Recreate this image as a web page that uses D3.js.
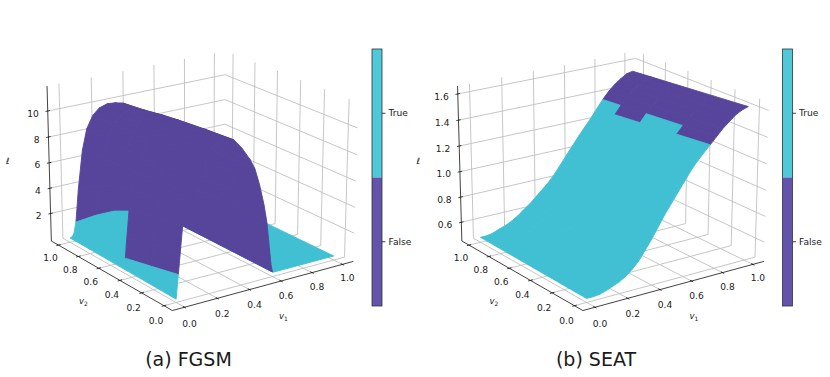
<!DOCTYPE html>
<html>
<head>
<meta charset="utf-8">
<script src="https://cdnjs.cloudflare.com/ajax/libs/d3/7.8.5/d3.min.js"></script>
<style>
html,body{margin:0;padding:0;background:#fff}
text{font-family:"DejaVu Sans",sans-serif;fill:#1a1a1a}
</style>
</head>
<body>
<svg id="c" width="830" height="377"></svg>
<script>
// ---------- data ----------
const axisTicks = [0, 0.2, 0.4, 0.6, 0.8, 1.0];
const panelTitles = ["(a) FGSM", "(b) SEAT"];
const colorLabels = ["True", "False"];

const fgsmZTicks = [2, 4, 6, 8, 10];
const fgsmV1 = [0,.014,.025,.04,.06,.09,.12,.16,.2,.25,.3,.35,.4,.45,.48,.51,.54,.56,.58,.59,.6,.61,.7,.85,1];
const fgsmV2 = [0,.24,.48,.62,.8,1];
const fgsmLoss = [
 [.05,1.85,3.3,5.3,6.1,7.15,8.2,9.5,10.55,10.95,11.05,10.75,10.0,9.05,8.3,7.05,5.45,4.05,1.85,.75,.15,.12,.12,.12,.12],
 [.08,1.35,3.1,5.0,6.1,7.2,8.2,9.45,10.4,10.8,10.85,10.6,9.9,9.0,8.25,7.0,5.4,4.0,1.85,.75,.15,.12,.12,.12,.12],
 [.1,.86,2.4,4.4,6.0,7.2,8.25,9.4,10.2,10.6,10.65,10.4,9.8,8.9,8.2,7.0,5.4,4.0,1.85,.75,.15,.12,.12,.12,.12],
 [.12,.5,1.6,3.8,5.7,7.1,8.3,9.4,10.1,10.45,10.5,10.25,9.7,8.8,8.1,6.9,5.35,3.95,1.8,.7,.15,.12,.12,.12,.12],
 [.14,.3,.9,2.7,5.0,7.0,8.35,9.35,9.9,10.2,10.2,10.0,9.55,8.7,8.05,6.85,5.3,3.9,1.8,.7,.15,.12,.12,.12,.12],
 [.15,.2,.4,1.3,3.9,6.8,8.4,9.35,9.8,10.0,9.95,9.8,9.4,8.6,8.0,6.8,5.3,3.9,1.8,.7,.15,.12,.12,.12,.12]
];
// per v2 band: purple ("False") between these two v1 limits
const fgsmFalseFrom = [.014,.014,.04,.04,.04];
const fgsmFalseTo = [.6,.6,.6,.6,.6];

const seatZTicks = [0.6, 0.8, 1.0, 1.2, 1.4, 1.6];
const seatV1 = [0,.04,.08,.12,.16,.2,.24,.28,.32,.36,.4,.44,.48,.52,.56,.6,.64,.68,.72,.76,.8,.84,.88,.92,.96,1];
const seatV2 = [0,.28,.6,.83,1];
const seatLoss = [
 [.48,.48,.485,.5,.52,.54,.57,.61,.66,.73,.8,.88,.96,1.03,1.1,1.17,1.24,1.3,1.35,1.4,1.45,1.5,1.54,1.58,1.605,1.62],
 [.483,.483,.489,.506,.524,.546,.576,.616,.661,.724,.787,.858,.931,1.0,1.068,1.136,1.205,1.265,1.318,1.372,1.426,1.478,1.519,1.558,1.584,1.598],
 [.486,.486,.494,.512,.529,.552,.582,.622,.663,.718,.773,.832,.897,.964,1.031,1.098,1.165,1.225,1.281,1.34,1.399,1.452,1.495,1.532,1.56,1.572],
 [.488,.488,.497,.517,.532,.557,.587,.627,.664,.713,.763,.814,.873,.939,1.005,1.07,1.136,1.196,1.255,1.317,1.379,1.434,1.478,1.514,1.543,1.554],
 [.49,.49,.5,.52,.535,.56,.59,.63,.665,.71,.755,.8,.855,.92,.985,1.05,1.115,1.175,1.235,1.3,1.365,1.42,1.465,1.5,1.53,1.54]
];
const seatFalseFrom = [.76,.8,.76,.8];
const seatFalseTo = [1,1,1,1];

// ---------- style / layout ----------
const colTrue = "#40c0d2", colFalse = "#56459a";
const barTrue = "#4fc9da", barFalse = "#6453ab";
const gridCol = "#c0c0c0";

// camera: 3x4 projection fitted through box corners measured in the picture
const cornerFit = [
  [[0,0,0],[171.7,311.7]],[[0,1,0],[51.7,240]],[[1,0,0],[354,259.3]],
  [[0,1,1],[47.3,86]],[[1,1,1],[225,50]],[[1,0,1],[358.3,103.3]],[[1,1,0],[224,201]]
];
function fitCamera(pts){
  const n=11, A=Array.from({length:n},()=>new Array(n+1).fill(0));
  const add=(r,b)=>{for(let i=0;i<n;i++){for(let j=0;j<n;j++)A[i][j]+=r[i]*r[j];A[i][n]+=r[i]*b;}};
  pts.forEach(([[X,Y,Z],[u,v]])=>{
    add([X,Y,Z,1,0,0,0,0,-u*X,-u*Y,-u*Z],u);
    add([0,0,0,0,X,Y,Z,1,-v*X,-v*Y,-v*Z],v);
  });
  for(let c=0;c<n;c++){
    let p=c;for(let r=c+1;r<n;r++)if(Math.abs(A[r][c])>Math.abs(A[p][c]))p=r;
    [A[c],A[p]]=[A[p],A[c]];
    for(let r=0;r<n;r++){if(r===c)continue;const f=A[r][c]/A[c][c];for(let k=c;k<=n;k++)A[r][k]-=f*A[c][k];}
  }
  return A.map((row,i)=>row[n]/row[i]);
}
const P=fitCamera(cornerFit);
const project=(x,y,z)=>{
  const w=P[8]*x+P[9]*y+P[10]*z+1;
  return [(P[0]*x+P[1]*y+P[2]*z+P[3])/w,(P[4]*x+P[5]*y+P[6]*z+P[7])/w];
};

const svg=d3.select("#c");
const sx=d3.scaleLinear().domain([-0.073,1.073]).range([0,1]);
const sy=d3.scaleLinear().domain([-0.073,1.073]).range([0,1]);
const fmt=d3.format(".1f");

function panel(dx,cfg){
  const g=svg.append("g").attr("transform",`translate(${dx},0)`);
  const sz=d3.scaleLinear().domain(cfg.zDomain).range([0,1]);
  const seg=(sel,data,a,b,col,w)=>sel.selectAll(null).data(data).join("line")
    .attr("x1",d=>a(d)[0]).attr("y1",d=>a(d)[1]).attr("x2",d=>b(d)[0]).attr("y2",d=>b(d)[1])
    .attr("stroke",col).attr("stroke-width",w);
  // grid
  const grid=g.append("g");
  seg(grid,axisTicks,d=>project(sx(d),0,0),d=>project(sx(d),1,0),gridCol,.9);
  seg(grid,axisTicks,d=>project(sx(d),1,0),d=>project(sx(d),1,1),gridCol,.9);
  seg(grid,axisTicks,d=>project(0,sy(d),0),d=>project(1,sy(d),0),gridCol,.9);
  seg(grid,axisTicks,d=>project(1,sy(d),0),d=>project(1,sy(d),1),gridCol,.9);
  seg(grid,cfg.zTicks,d=>project(0,1,sz(d)),d=>project(1,1,sz(d)),gridCol,.9);
  seg(grid,cfg.zTicks,d=>project(1,1,sz(d)),d=>project(1,0,sz(d)),gridCol,.9);
  // surface: back-to-front over the height field
  const cells=[];
  for(let j=cfg.v2.length-2;j>=0;j--) for(let i=cfg.v1.length-2;i>=0;i--) cells.push({i,j});
  const line=d3.line();
  const pt=(i,j)=>project(sx(cfg.v1[i]),sy(cfg.v2[j]),sz(cfg.loss[j][i]));
  const isFalse=c=>cfg.v1[c.i]>=cfg.falseFrom[c.j]-1e-9 && cfg.v1[c.i]<cfg.falseTo[c.j]-1e-9;
  g.append("g").selectAll("path").data(cells).join("path")
    .attr("d",c=>line([pt(c.i,c.j),pt(c.i+1,c.j),pt(c.i+1,c.j+1),pt(c.i,c.j+1)])+"Z")
    .attr("fill",c=>isFalse(c)?colFalse:colTrue)
    .attr("stroke",c=>isFalse(c)?colFalse:colTrue)
    .attr("stroke-width",.9).attr("stroke-linejoin","round");
  // axes
  const ax=g.append("g");
  const edge=(a,b)=>{const p=project(...a),q=project(...b);ax.append("line").attr("x1",p[0]).attr("y1",p[1]).attr("x2",q[0]).attr("y2",q[1]).attr("stroke","#111").attr("stroke-width",.8);};
  edge([0,0,0],[1,0,0]);edge([0,0,0],[0,1,0]);edge([0,1,0],[0,1,1]);
  seg(ax,axisTicks,d=>project(sx(d),-.012,0),d=>project(sx(d),.012,0),"#111",.8);
  seg(ax,axisTicks,d=>project(-.012,sy(d),0),d=>project(.012,sy(d),0),"#111",.8);
  seg(ax,cfg.zTicks,d=>project(-.012,1,sz(d)),d=>project(.012,1,sz(d)),"#111",.8);
  const fs=9.1;
  ax.selectAll(null).data(axisTicks).join("text").text(fmt).attr("font-size",fs).attr("text-anchor","middle").attr("dy",".35em")
    .attr("x",d=>project(sx(d),0,0)[0]+5).attr("y",d=>project(sx(d),0,0)[1]+13+3.5*(1-d));
  ax.selectAll(null).data(axisTicks).join("text").text(fmt).attr("font-size",fs).attr("text-anchor","middle").attr("dy",".35em")
    .attr("x",d=>project(0,sy(d),0)[0]-8).attr("y",d=>project(0,sy(d),0)[1]+13+2*(1-d));
  ax.selectAll(null).data(cfg.zTicks).join("text").text(cfg.zFmt).attr("font-size",fs).attr("text-anchor","end").attr("dy",".35em")
    .attr("x",d=>project(0,1,sz(d))[0]-9).attr("y",d=>project(0,1,sz(d))[1]+2.5);
  // axis names
  const name=(x,y,base,sub)=>{const t=g.append("text").attr("x",x).attr("y",y).attr("font-size",8.5).attr("font-style","italic").text(base);
    if(sub)t.append("tspan").attr("dy",2).attr("font-size",6).attr("font-style","normal").text(sub);};
  name(6,164,"ℓ");name(79,304,"v","2");name(279,319,"v","1");
  // title
  g.append("text").attr("x",cfg.titleX).attr("y",366).attr("font-size",19).attr("text-anchor","middle").text(cfg.title);
  // colour bar
  const bar=g.append("g");
  const by=d3.scaleLinear().domain([0,1]).range([49,306]);
  const bands=[{k:0,a:0,b:.5,c:barTrue,l:colorLabels[0]},{k:1,a:.5,b:1,c:barFalse,l:colorLabels[1]}];
  bar.selectAll("rect").data(bands).join("rect").attr("x",372).attr("width",10)
    .attr("y",d=>by(d.a)).attr("height",d=>by(d.b)-by(d.a)).attr("fill",d=>d.c);
  bar.append("rect").attr("x",372).attr("y",by(0)).attr("width",10).attr("height",by(1)-by(0))
    .attr("fill","none").attr("stroke","#333").attr("stroke-width",.8);
  bar.selectAll("line").data(bands).join("line").attr("x1",382).attr("x2",385.5)
    .attr("y1",d=>by((d.a+d.b)/2)).attr("y2",d=>by((d.a+d.b)/2)).attr("stroke","#111").attr("stroke-width",.8);
  bar.selectAll(null).data(bands).join("text").text(d=>d.l).attr("x",388.5).attr("font-size",fs).attr("dy",".35em")
    .attr("y",d=>by((d.a+d.b)/2));
}

panel(0,{title:panelTitles[0],titleX:188.5,zDomain:[-0.2,11.9],zTicks:fgsmZTicks,zFmt:d3.format("d"),
  v1:fgsmV1,v2:fgsmV2,loss:fgsmLoss,falseFrom:fgsmFalseFrom,falseTo:fgsmFalseTo});
panel(410.5,{title:panelTitles[1],titleX:185.5,zDomain:[0.45,1.66],zTicks:seatZTicks,zFmt:fmt,
  v1:seatV1,v2:seatV2,loss:seatLoss,falseFrom:seatFalseFrom,falseTo:seatFalseTo});
</script>
</body>
</html>
